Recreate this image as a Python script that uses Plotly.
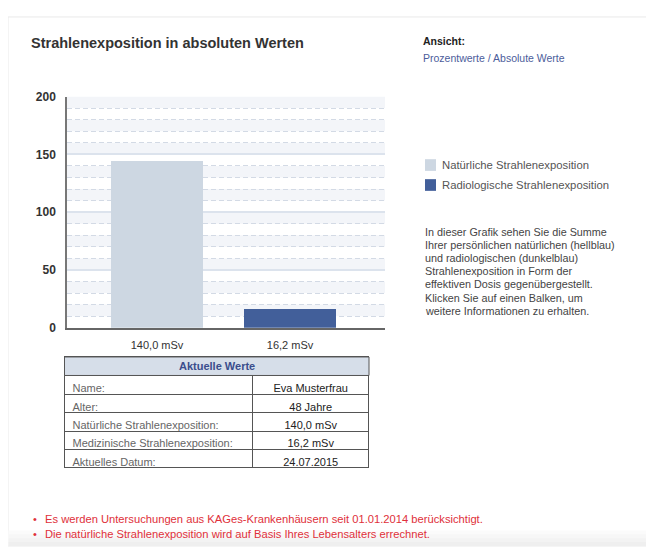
import plotly.graph_objects as go

# the page body has an 8px default margin, so the figure starts at (8, 8)
OFF = 8
W, H = 638, 544

# ---- data ----
categories = ["140,0 mSv", "16,2 mSv"]
series_names = ["Natürliche Strahlenexposition", "Radiologische Strahlenexposition"]
bar_values = [145, 16.2]          # bar heights (mSv)
bar_colors = ["#cdd7e2", "#425f9a"]
y_tick_values = [0, 50, 100, 150, 200]

table_header = "Aktuelle Werte"
table_labels = ["Name:", "Alter:", "Natürliche Strahlenexposition:",
                "Medizinische Strahlenexposition:", "Aktuelles Datum:"]
table_values = ["Eva Musterfrau", "48 Jahre", "140,0 mSv", "16,2 mSv", "24.07.2015"]

info_lines = [
    "In dieser Grafik sehen Sie die Summe",
    "Ihrer persönlichen natürlichen (hellblau)",
    "und radiologischen (dunkelblau)",
    "Strahlenexposition in Form der",
    "effektiven Dosis gegenübergestellt.",
    "Klicken Sie auf einen Balken, um",
    "weitere Informationen zu erhalten.",
]
notes = [
    "Es werden Untersuchungen aus KAGes-Krankenhäusern seit 01.01.2014 berücksichtigt.",
    "Die natürliche Strahlenexposition wird auf Basis Ihres Lebensalters errechnet.",
]

FONT = "Liberation Sans, Arial, sans-serif"


def px(x):
    return (x - OFF) / W


def py(y):
    return 1 - (y - OFF) / H


fig = go.Figure()

fig.add_trace(go.Bar(
    x=list(range(len(categories))), y=bar_values,
    marker=dict(color=bar_colors, line=dict(width=0)),
    width=0.692, hoverinfo="skip", showlegend=False,
))

fig.add_trace(go.Table(
    domain=dict(x=[px(64.5), px(369)], y=[py(482), py(359)]),
    columnwidth=[189, 116],
    header=dict(values=["", ""],
                fill_color="#d6dee9",
                line=dict(color="#555555", width=1),
                font=dict(family=FONT, size=11, color="#3a4d8c"),
                align="center", height=19),
    cells=dict(values=[table_labels, table_values],
               fill_color="white",
               line=dict(color="#555555", width=1),
               font=dict(family=FONT, size=11, color=["#666666", "#222222"]),
               align=["left", "center"], height=18.4),
))

shapes = []
# outer container
shapes.append(dict(type="rect", xref="paper", yref="paper",
                   x0=px(8), x1=px(660), y0=py(553), y1=py(10),
                   line=dict(color="#e9e9e9", width=1), fillcolor="white", layer="below"))
for i, c in enumerate(["#fbfbfb", "#f7f7f7", "#f3f3f3", "#efefef"]):
    shapes.append(dict(type="rect", xref="paper", yref="paper",
                       x0=px(8.5), x1=px(660), y0=py(553), y1=py(537 + i * 4),
                       line=dict(width=0), fillcolor=c, layer="below"))
# alternating bands
for y0 in range(10, 200, 20):
    shapes.append(dict(type="rect", xref="x domain", yref="y",
                       x0=0, x1=1, y0=y0, y1=y0 + 10,
                       line=dict(width=0), fillcolor="#f3f5f9", layer="below"))
# custom legend squares
for i, c in enumerate(bar_colors):
    shapes.append(dict(type="rect", xref="paper", yref="paper",
                       x0=px(425), x1=px(436), y0=py(168 + i * 20.5), y1=py(156 + i * 20.5),
                       line=dict(width=0), fillcolor=c))
# spanning header cell of the table
shapes.append(dict(type="rect", xref="paper", yref="paper", layer="above",
                   x0=px(64.5), x1=px(369), y0=py(378), y1=py(359),
                   line=dict(color="#555555", width=1), fillcolor="#d6dee9"))

annotations = []
annotations.append(dict(text=table_header, x=(px(64.5) + px(369)) / 2, y=py(368.5),
                        xref="paper", yref="paper", xanchor="center", yanchor="middle",
                        showarrow=False,
                        font=dict(family=FONT, size=11, color="#3a4d8c", weight="bold")))
annotations.append(dict(text="Strahlenexposition in absoluten Werten", x=px(29), y=py(37),
                        xref="paper", yref="paper", xanchor="left", yanchor="middle",
                        showarrow=False,
                        font=dict(family=FONT, size=14.5, color="#333333", weight="bold")))
annotations.append(dict(text="Ansicht:", x=px(421), y=py(35), xref="paper", yref="paper",
                        xanchor="left", yanchor="middle", showarrow=False,
                        font=dict(family=FONT, size=10.5, color="#222222", weight="bold")))
annotations.append(dict(text="Prozentwerte / Absolute Werte", x=px(421), y=py(52),
                        xref="paper", yref="paper", xanchor="left", yanchor="middle",
                        showarrow=False, font=dict(family=FONT, size=10.5, color="#4c5d9b")))
for i, name in enumerate(series_names):
    annotations.append(dict(text=name, x=px(440), y=py(162 + i * 20), xref="paper", yref="paper",
                            xanchor="left", yanchor="middle", showarrow=False,
                            font=dict(family=FONT, size=11.3, color="#555555")))
for i, line in enumerate(info_lines):
    annotations.append(dict(text=line, x=px(423), y=py(230.5 + i * 13.5), xref="paper", yref="paper",
                            xanchor="left", yanchor="middle", showarrow=False,
                            font=dict(family=FONT, size=10.8, color="#444444")))
for i, note in enumerate(notes):
    annotations.append(dict(text="•", x=px(31), y=py(525 + i * 16), xref="paper", yref="paper",
                            xanchor="left", yanchor="middle", showarrow=False,
                            font=dict(family=FONT, size=11, color="#e0303a")))
    annotations.append(dict(text=note, x=px(43), y=py(525 + i * 16), xref="paper", yref="paper",
                            xanchor="left", yanchor="middle", showarrow=False,
                            font=dict(family=FONT, size=11.2, color="#e0303a")))

fig.update_layout(
    width=W, height=H, autosize=False,
    margin=dict(l=0, r=0, t=0, b=0, pad=0),
    paper_bgcolor="white", plot_bgcolor="white",
    font=dict(family=FONT, size=11, color="#333333"),
    shapes=shapes, annotations=annotations, showlegend=False,
    bargap=0,
    xaxis=dict(domain=[px(67), px(385)], range=[-0.677, 1.714],
               tickvals=list(range(len(categories))), ticktext=categories,
               showgrid=False, zeroline=False, showline=True, linecolor="#666666", linewidth=2,
               ticks="", ticklabelstandoff=6, fixedrange=True,
               tickfont=dict(family=FONT, size=11, color="#333333")),
    yaxis=dict(domain=[py(329), py(91.7)], range=[0, 200],
               tickvals=y_tick_values,
               showgrid=True, gridcolor="#dce3ed", gridwidth=2,
               minor=dict(dtick=10, showgrid=True, gridcolor="#d3dae5", griddash="5px,3px", gridwidth=1),
               zeroline=False, showline=True, linecolor="#777777", linewidth=1.5,
               ticks="", ticklabelstandoff=7, fixedrange=True,
               tickfont=dict(family=FONT, size=12, color="#333333", weight="bold")),
)

fig.write_html("out.html", config={"displayModeBar": False})
